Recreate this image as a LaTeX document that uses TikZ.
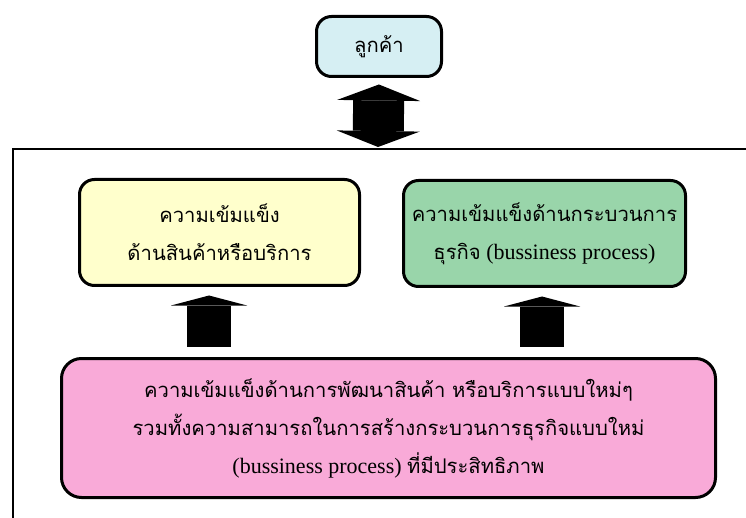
\documentclass[tikz,border=0pt]{standalone}
\usepackage{fontspec}
\setmainfont{Liberation Serif}
\newfontfamily\thaifont[Script=Thai, Scale=0.92]{Loma}
\usetikzlibrary{arrows.meta}
\definecolor{custblue}{RGB}{214,239,243}
\definecolor{prodyellow}{RGB}{255,255,204}
\definecolor{procgreen}{RGB}{153,213,170}
\definecolor{devpink}{RGB}{249,170,216}

\begin{document}
\begin{tikzpicture}[x=1pt, y=-1pt]
	\tikzstyle{box}=[rectangle, rounded corners=15pt, line width=3pt, draw=black, align=center, font=\fontsize{22}{38}\selectfont]
	\tikzstyle{fat}=[-{Triangle[width=76pt, length=10pt, line width=0pt]}, line width=44pt, draw=black]
	\tikzstyle{bothfat}=[{Triangle[width=83pt, length=16pt, line width=0pt]}-{Triangle[width=83pt, length=16pt, line width=0pt]}, line width=51pt, draw=black]
	\useasboundingbox (0,0) rectangle (746,518);
	% outer frame, cut off at right and bottom
	\draw[line width=2pt] (12.5,518) -- (12.5,149) -- (746,149);
	\coordinate (frametop) at (378,149);
	\node[box, fill=custblue, minimum width=125pt, minimum height=60pt] (cust) at (379,46.5) {\thaifont ลูกค้า};
	\node[box, fill=prodyellow, minimum width=280pt, minimum height=106pt] (prod) at (219.5,232.5) {\thaifont ความเข้มแข็ง\\\thaifont ด้านสินค้าหรือบริการ};
	\node[box, fill=procgreen, minimum width=282pt, minimum height=106pt] (proc) at (544.5,233.5) {\thaifont ความเข้มแข็งด้านกระบวนการ\\{\thaifont ธุรกิจ} (bussiness process)};
	\node[box, fill=devpink, rounded corners=20pt, minimum width=654pt, minimum height=139pt] (dev) at (388.5,428) {\thaifont ความเข้มแข็งด้านการพัฒนาสินค้า หรือบริการแบบใหม่ๆ\\\thaifont รวมทั้งความสามารถในการสร้างกระบวนการธุรกิจแบบใหม่\\(bussiness process) {\thaifont ที่มีประสิทธิภาพ}};
	\path (cust.south) edge [bothfat, shorten <=6.5pt, shorten >=2pt] (frametop)
	([xshift=-10.5pt]prod.south |- dev.north) edge [fat, shorten <=10.5pt, shorten >=8.5pt] ([xshift=-10.5pt]prod.south)
	([xshift=-2.5pt]proc.south |- dev.north) edge [fat, shorten <=10.5pt, shorten >=8.5pt] ([xshift=-2.5pt]proc.south);
\end{tikzpicture}
\end{document}
